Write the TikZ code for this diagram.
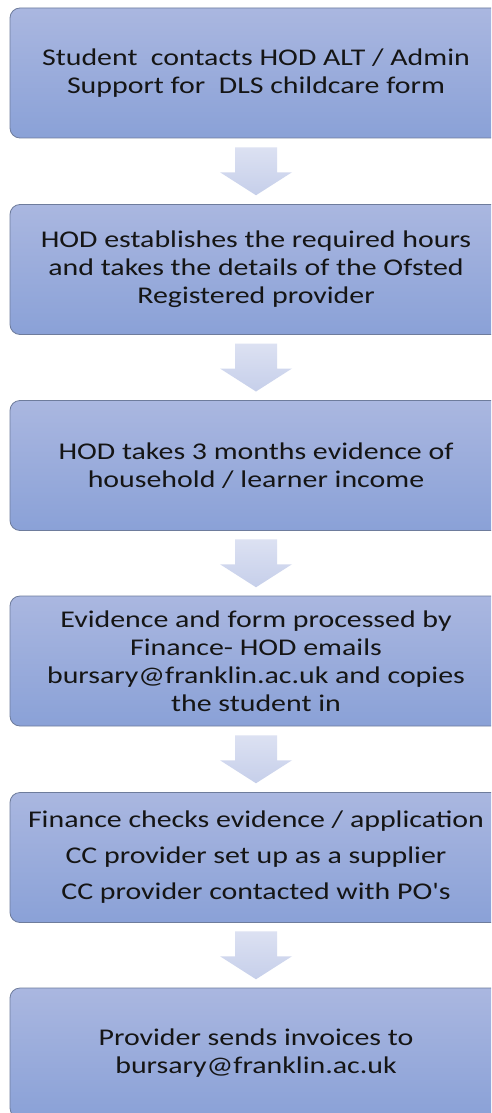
\documentclass[tikz,border=0pt]{standalone}
\usepackage{fontspec}
\setmainfont{Carlito}[Ligatures=TeXOff, FakeStretch=1.245]
\usetikzlibrary{calc}
\definecolor{boxtop}{HTML}{AAB7E0}
\definecolor{boxbot}{HTML}{8AA1D7}
\definecolor{boxline}{HTML}{6E7C9C}
\definecolor{arrtop}{HTML}{DCE1F2}
\definecolor{arrbot}{HTML}{C6CFEA}
\definecolor{txt}{HTML}{151515}
\tikzset{
  stepbox/.style={rounded corners=10pt, draw=boxline, line width=0.8pt,
    top color=boxtop, bottom color=boxbot, minimum width=492pt, minimum height=130pt,
    align=center, text=txt, font=\fontsize{24}{28}\selectfont, inner sep=0pt},
  flowarrow/.style={top color=arrtop, bottom color=arrbot, draw=none}
}
\newcommand{\downarrowbetween}[2]{%
  \coordinate (m) at ($(#1.south)!0.5!(#2.north)$);
  \path[flowarrow] ($(m)+(-21,24)$) -- ++(42,0) -- ++(0,-25) -- ++(15,0)
    -- ++(-36,-23) -- ++(-36,23) -- ++(15,0) -- cycle;}
\begin{document}
\begin{tikzpicture}[x=1pt,y=1pt]
\useasboundingbox (0,0) rectangle (491,-1113);
\clip (0,0) rectangle (491,-1113);
\fill[white] (0,0) rectangle (491,-1113);
\node[stepbox] (b1) at (256,-73) {Student\ \ contacts HOD ALT / Admin\\Support for\ \ DLS childcare form};
\node[stepbox] (b2) at (256,-269.5) {HOD establishes the required hours\\and takes the details of the Ofsted\\Registered provider};
\node[stepbox] (b3) at (256,-465.5) {HOD takes 3 months evidence of\\household / learner income};
\node[stepbox] (b4) at (256,-661) {Evidence and form processed by\\Finance- HOD emails\\bursary@franklin.ac.uk and copies\\the student in};
\node[stepbox] (b5) at (256,-857.5) {Finance checks evidence / application\\[8pt]CC provider set up as a supplier\\[8pt]CC provider contacted with PO's};
\node[stepbox] (b6) at (256,-1053) {Provider sends invoices to\\bursary@franklin.ac.uk};
\downarrowbetween{b1}{b2}
\downarrowbetween{b2}{b3}
\downarrowbetween{b3}{b4}
\downarrowbetween{b4}{b5}
\downarrowbetween{b5}{b6}
\end{tikzpicture}
\end{document}
